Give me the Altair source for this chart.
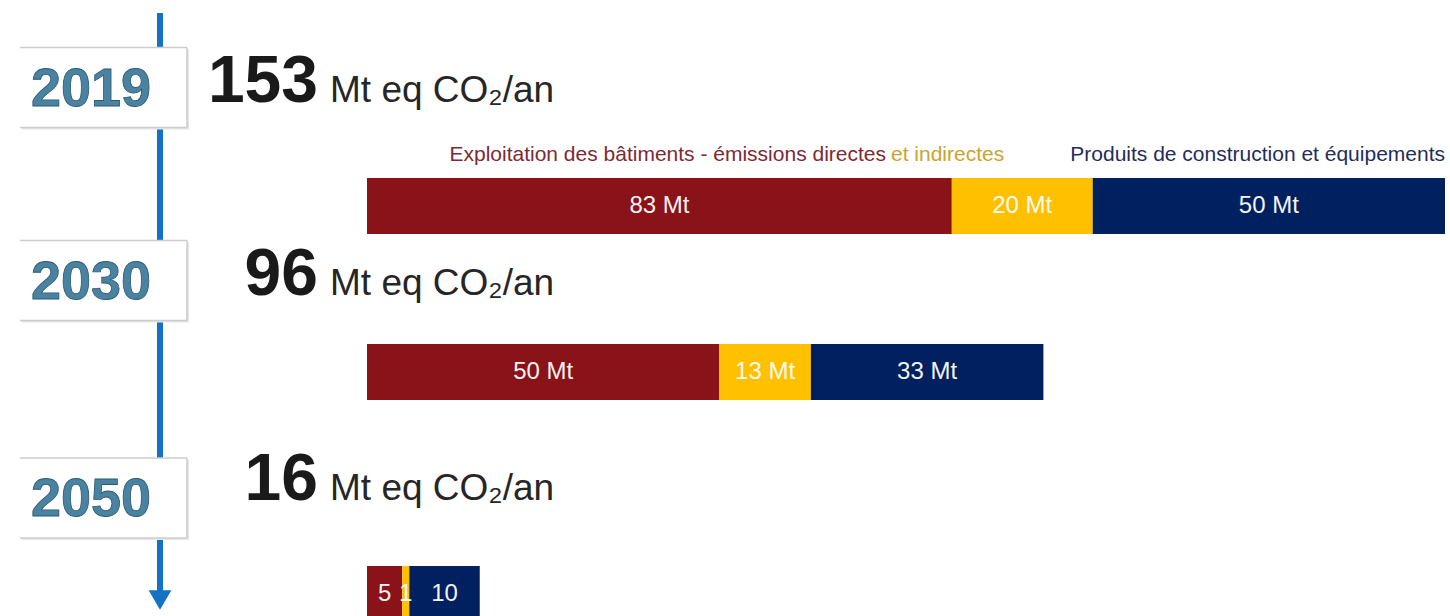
import altair as alt
import pandas as pd

# ---------------- data ----------------
years = [2019, 2030, 2050]
totals = [153, 96, 16]
categories = ["directes", "indirectes", "produits"]
directes = [83, 50, 5]
indirectes = [20, 13, 1]
produits = [50, 33, 10]
labels_directes = ["83 Mt", "50 Mt", "5"]
labels_indirectes = ["20 Mt", "13 Mt", "1"]
labels_produits = ["50 Mt", "33 Mt", "10"]
unit_label = "Mt eq CO₂/an"
legend_directes = "Exploitation des bâtiments -  émissions directes"
legend_indirectes = "et indirectes"
legend_produits = "Produits de construction et équipements"
colors = ["#8A1219", "#FFC000", "#002060"]

# ---------------- tables ----------------
year_df = pd.DataFrame({
    "year": years,
    "year_label": [str(y) for y in years],
    "total": totals,
    "unit": [unit_label] * len(years),
})

rows = []
for i, y in enumerate(years):
    start = 0
    for cat, vals, labs in zip(categories,
                               [directes, indirectes, produits],
                               [labels_directes, labels_indirectes, labels_produits]):
        v = vals[i]
        rows.append({"year": y, "category": cat, "value": v,
                     "start": start, "end": start + v,
                     "mid": start + v / 2, "label": labs[i]})
        start += v
seg_df = pd.DataFrame(rows)
one = pd.DataFrame({"k": [0]})

# ---------------- scales ----------------
xscale = alt.Scale(domain=[-52.09, 153.71], range=[0, 1450], nice=False, zero=False)


def yscale(rng):
    return alt.Scale(domain=years, range=rng, nice=False, zero=False)


BAR_Y = [206, 372, 594]
BOX_Y = [87.5, 280.5, 498]
NUM_Y = [102, 295, 500]

BLUE = "#1372C4"

# ---------------- layers ----------------
line = alt.Chart(one).mark_rule(color=BLUE, strokeWidth=6).encode(
    x=alt.value(160), y=alt.value(13), y2=alt.value(594))
arrow = alt.Chart(one).mark_point(shape="triangle-down", filled=True, size=520,
                                  color=BLUE, opacity=1).encode(
    x=alt.value(160), y=alt.value(600))

box_y = alt.Y("year:Q", scale=yscale(BOX_Y), axis=None)
shadow = alt.Chart(year_df).mark_rect(fill="#E6E6E6", yOffset=-38, y2Offset=42).encode(
    x=alt.value(22), x2=alt.value(189), y=box_y, y2=alt.Y2("year"))
box = alt.Chart(year_df).mark_rect(fill="white", yOffset=-40, y2Offset=40).encode(
    x=alt.value(18), x2=alt.value(187), y=box_y, y2=alt.Y2("year"))
box_top = alt.Chart(year_df).mark_rule(color="#CCCCCC", strokeWidth=1.5, yOffset=-40).encode(
    x=alt.value(20), x2=alt.value(187), y=box_y)
box_bot = alt.Chart(year_df).mark_rule(color="#CCCCCC", strokeWidth=1.5, yOffset=40).encode(
    x=alt.value(20), x2=alt.value(187), y=box_y)
box_right = alt.Chart(year_df).mark_rule(color="#CCCCCC", strokeWidth=1.5,
                                         yOffset=-40, y2Offset=40).encode(
    x=alt.value(187), y=box_y, y2=alt.Y2("year"))
year_text = alt.Chart(year_df).mark_text(
    font="Liberation Sans", fontWeight="bold", fontSize=54,
    color="#4A83A2", stroke="#2C5A72", strokeWidth=0.8,
    align="center", baseline="middle", dy=2).encode(
    x=alt.value(91), y=box_y, text="year_label:N")

num_y = alt.Y("year:Q", scale=yscale(NUM_Y), axis=None)
big_num = alt.Chart(year_df).mark_text(
    font="Liberation Sans", fontWeight="bold", fontSize=66, color="#1A1A1A",
    align="right", baseline="alphabetic").encode(
    x=alt.value(318), y=num_y, text="total:Q")
unit = alt.Chart(year_df).mark_text(
    font="Liberation Sans", fontSize=37, color="#262626",
    align="left", baseline="alphabetic").encode(
    x=alt.value(330), y=num_y, text="unit:N")

leg1 = alt.Chart(one).mark_text(font="Liberation Sans", fontSize=21, color="#7E2A33",
                                align="right", baseline="alphabetic").encode(
    x=alt.value(886), y=alt.value(161), text=alt.value(legend_directes))
leg2 = alt.Chart(one).mark_text(font="Liberation Sans", fontSize=21, color="#C9A52E",
                                align="left", baseline="alphabetic").encode(
    x=alt.value(891), y=alt.value(161), text=alt.value(legend_indirectes))
leg3 = alt.Chart(one).mark_text(font="Liberation Sans", fontSize=21, color="#1F2D5C",
                                align="right", baseline="alphabetic").encode(
    x=alt.value(1445), y=alt.value(161), text=alt.value(legend_produits))

bar_y = alt.Y("year:Q", scale=yscale(BAR_Y), axis=None)
bars = alt.Chart(seg_df).mark_rect(yOffset=-28, y2Offset=28).encode(
    x=alt.X("start:Q", scale=xscale, axis=None),
    x2="end",
    y=bar_y, y2=alt.Y2("year"),
    color=alt.Color("category:N", scale=alt.Scale(domain=categories, range=colors), legend=None))
bar_text = alt.Chart(seg_df).mark_text(
    font="Liberation Sans", fontSize=24, color="white", opacity=0.95,
    align="center", baseline="middle").encode(
    x=alt.X("mid:Q", scale=xscale, axis=None), y=bar_y, text="label:N")

chart = alt.layer(
    line, arrow, shadow, box, box_top, box_bot, box_right, year_text,
    big_num, unit, leg1, leg2, leg3, bars, bar_text
).resolve_scale(y="independent").properties(
    width=1450, height=616, padding=0,
    autosize=alt.AutoSizeParams(type="none"),
    background="white",
).configure_view(stroke=None)

chart.save("out.html", embed_options={"renderer": "svg", "actions": False})
